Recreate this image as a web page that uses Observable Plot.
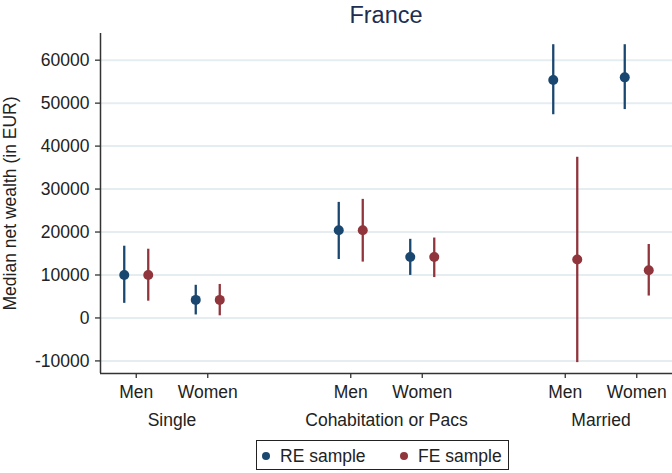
<!DOCTYPE html>
<html>
<head>
<meta charset="utf-8">
<script src="https://cdn.jsdelivr.net/npm/d3@7"></script>
<script src="https://cdn.jsdelivr.net/npm/@observablehq/plot@0.6"></script>
<style>
  html, body { margin: 0; padding: 0; background: #fff; }
  #wrap { position: relative; width: 672px; height: 473px; font-family: "Liberation Sans", Arial, sans-serif; color: #222; overflow: hidden; }
  #title { position: absolute; left: 100px; width: 572px; top: 1px; text-align: center; font-size: 23.5px; line-height: 28px; color: #1f2d50; }
  #chart { position: absolute; left: 0; top: 30px; }
  #legend { position: absolute; left: 256px; top: 440px; width: 253px; height: 30px; border: 1.4px solid #222; box-sizing: border-box; font-size: 17.5px; }
  .item { position: absolute; top: 4px; line-height: 22px; white-space: nowrap; }
  .mk { display: inline-block; width: 8px; height: 8px; border-radius: 50%; vertical-align: middle; margin-right: 10px; position: relative; top: -1px; }
</style>
</head>
<body>
<div id="wrap">
  <div id="title">France</div>
  <div id="chart"></div>
  <div id="legend"></div>
</div>
<script>
// ---- data ----
const groups = ["Single", "Cohabitation or Pacs", "Married"];
const groupCenters = [1.5, 4.5, 7.5];
const sexes = ["Men", "Women", "Men", "Women", "Men", "Women"];
const positions = [1, 2, 4, 5, 7, 8];
const seriesNames = ["RE sample", "FE sample"];
const seriesColors = ["#1a476f", "#90353b"];

const reMedian = [10000, 4200, 20400, 14200, 55400, 56000];
const reLow    = [3400, 700, 13600, 9900, 47300, 48500];
const reHigh   = [16700, 7600, 26900, 18300, 63600, 63600];

const feMedian = [10000, 4200, 20400, 14200, 13600, 11100];
const feLow    = [3900, 500, 13000, 9400, -10400, 5100];
const feHigh   = [16000, 7800, 27600, 18600, 37400, 17100];

const yTicks = [-10000, 0, 10000, 20000, 30000, 40000, 50000, 60000];
const yLabel = "Median net wealth (in EUR)";

// ---- build table ----
const table = [];
positions.forEach((p, i) => {
  table.push({pos: p, series: seriesNames[0], median: reMedian[i], low: reLow[i], high: reHigh[i]});
  table.push({pos: p, series: seriesNames[1], median: feMedian[i], low: feLow[i], high: feHigh[i]});
});
const re = table.filter(d => d.series === seriesNames[0]);
const fe = table.filter(d => d.series === seriesNames[1]);

const sexByPos = new Map(positions.map((p, i) => [p, sexes[i]]));
const groupByPos = new Map(groupCenters.map((p, i) => [p, groups[i]]));

const xDomain = [0.5, 8.5];
const yDomain = [-12930, 66210];

const chart = Plot.plot({
  width: 672,
  height: 410,
  marginTop: 3,
  marginBottom: 67,
  marginLeft: 100,
  marginRight: 0,
  style: {fontFamily: "Liberation Sans, Arial, sans-serif", fontSize: "17.5px", color: "#222", background: "white", overflow: "visible"},
  x: {domain: xDomain},
  y: {domain: yDomain},
  marks: [
    Plot.gridY(yTicks, {stroke: "#e5edf1", strokeOpacity: 1, strokeWidth: 2}),
    Plot.axisY(yTicks, {tickSize: 5, tickPadding: 6, stroke: "#333", strokeWidth: 1.3, tickFormat: d => String(d).replace("\u2212", "-"), label: yLabel, labelAnchor: "center", labelArrow: "none", labelOffset: 97}),
    Plot.axisX(positions, {tickSize: 5, tickPadding: 7, stroke: "#333", strokeWidth: 1.3, tickFormat: d => sexByPos.get(d), label: null}),
    Plot.axisX(groupCenters, {tickSize: 0, tickPadding: 40, tickFormat: d => groupByPos.get(d), label: null}),
    Plot.ruleX([xDomain[0]], {stroke: "#333", strokeWidth: 1.5}),
    Plot.ruleY([yDomain[0]], {stroke: "#333", strokeWidth: 1.5}),
    Plot.ruleX(re, {x: "pos", y1: "low", y2: "high", dx: -12, stroke: seriesColors[0], strokeWidth: 2.3}),
    Plot.dot(re, {x: "pos", y: "median", dx: -12, r: 5, fill: seriesColors[0]}),
    Plot.ruleX(fe, {x: "pos", y1: "low", y2: "high", dx: 12, stroke: seriesColors[1], strokeWidth: 2.3}),
    Plot.dot(fe, {x: "pos", y: "median", dx: 12, r: 5, fill: seriesColors[1]})
  ]
});
document.getElementById("chart").appendChild(chart);

// ---- legend ----
const legend = document.getElementById("legend");
const lefts = [5, 143];
seriesNames.forEach((name, i) => {
  const it = document.createElement("div");
  it.className = "item";
  it.style.left = lefts[i] + "px";
  it.innerHTML = `<span class="mk" style="background:${seriesColors[i]}"></span>${name}`;
  legend.appendChild(it);
});
</script>
</body>
</html>
